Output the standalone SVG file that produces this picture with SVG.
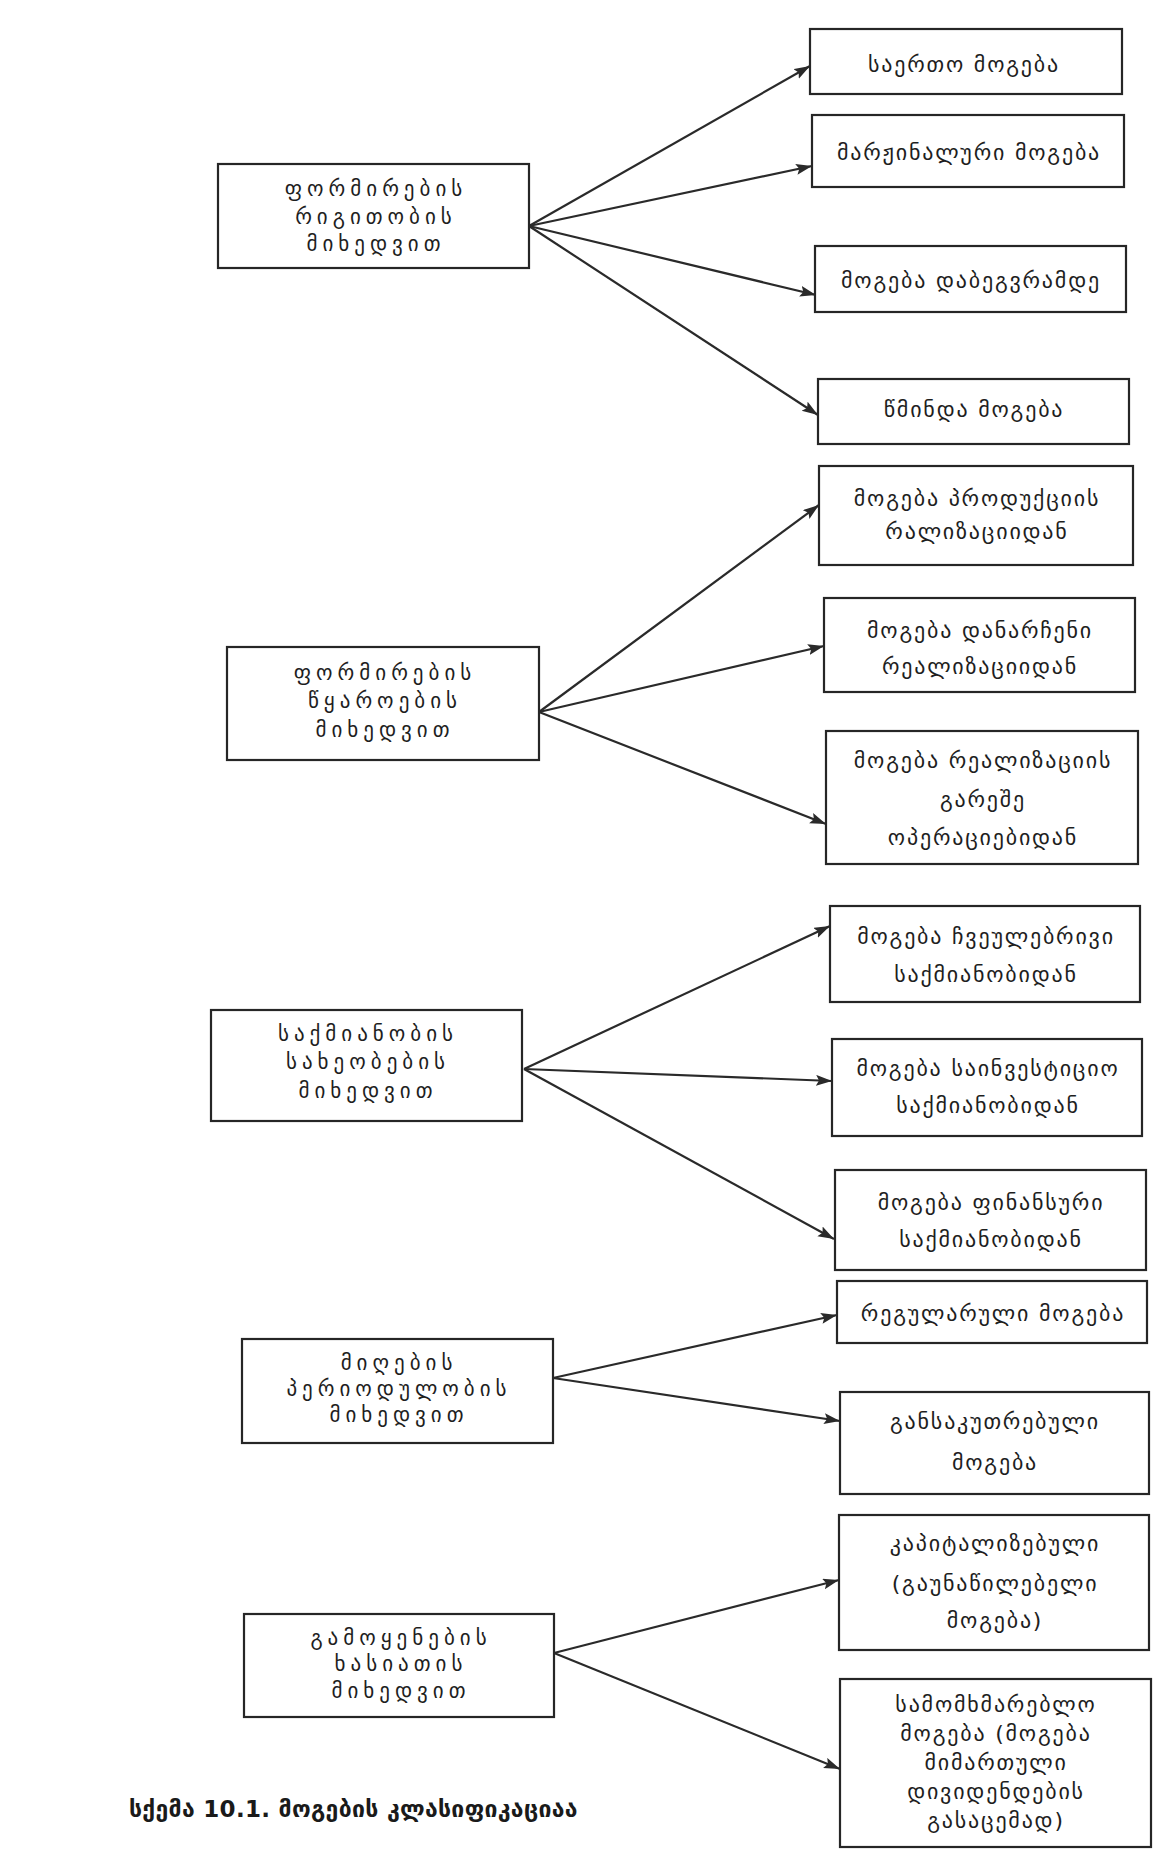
<svg xmlns="http://www.w3.org/2000/svg" width="1156" height="1851" viewBox="0 0 1156 1851">
<style>
.box{fill:#ffffff;stroke:#262626;stroke-width:2.2}
.lt{font-family:"DejaVu Sans",sans-serif;font-size:21px;letter-spacing:5px;fill:#1e1e1e;text-anchor:middle;dominant-baseline:central}
.rt{font-family:"DejaVu Sans",sans-serif;font-size:22px;letter-spacing:1.8px;fill:#1e1e1e;text-anchor:middle;dominant-baseline:central}
.cap{font-family:"DejaVu Sans",sans-serif;font-size:23px;letter-spacing:0.3px;font-weight:bold;fill:#1a1a1a;dominant-baseline:central}
.con line{stroke:#2a2a2a;stroke-width:2.2;marker-end:url(#ah)}
</style>
<defs>
<marker id="ah" markerUnits="userSpaceOnUse" markerWidth="17" markerHeight="12" refX="16" refY="5.5" orient="auto">
<path d="M0,0 L16,5.5 L0,11 L3,5.5 z" fill="#2a2a2a"/>
</marker>
</defs>
<rect width="1156" height="1851" fill="#ffffff"/>
<g id="connectors" class="con">
<line x1="529" y1="226" x2="810" y2="66"/>
<line x1="529" y1="226" x2="812" y2="166"/>
<line x1="529" y1="226" x2="816" y2="295"/>
<line x1="529" y1="226" x2="818" y2="415"/>
<line x1="539" y1="712" x2="819" y2="505"/>
<line x1="539" y1="712" x2="824" y2="646"/>
<line x1="539" y1="712" x2="826" y2="824"/>
<line x1="524" y1="1069" x2="830" y2="926"/>
<line x1="524" y1="1069" x2="832" y2="1081"/>
<line x1="524" y1="1069" x2="834" y2="1239"/>
<line x1="553" y1="1378" x2="837" y2="1315"/>
<line x1="553" y1="1378" x2="840" y2="1421"/>
<line x1="554" y1="1653" x2="839" y2="1580"/>
<line x1="554" y1="1653" x2="840" y2="1769"/>
</g>
<g id="L1"><rect class="box" x="218" y="164" width="311" height="104"/>
<text class="lt" x="376" y="189">ფორმირების</text><text class="lt" x="376" y="217">რიგითობის</text><text class="lt" x="376" y="244">მიხედვით</text></g>
<g id="L2"><rect class="box" x="227" y="647" width="312" height="113"/>
<text class="lt" x="385" y="673">ფორმირების</text><text class="lt" x="385" y="701">წყაროების</text><text class="lt" x="385" y="730">მიხედვით</text></g>
<g id="L3"><rect class="box" x="211" y="1010" width="311" height="111"/>
<text class="lt" x="368" y="1034">საქმიანობის</text><text class="lt" x="368" y="1062">სახეობების</text><text class="lt" x="368" y="1091">მიხედვით</text></g>
<g id="L4"><rect class="box" x="242" y="1339" width="311" height="104"/>
<text class="lt" x="399" y="1363">მიღების</text><text class="lt" x="399" y="1389">პერიოდულობის</text><text class="lt" x="399" y="1415">მიხედვით</text></g>
<g id="L5"><rect class="box" x="244" y="1614" width="310" height="103"/>
<text class="lt" x="401" y="1638">გამოყენების</text><text class="lt" x="401" y="1664">ხასიათის</text><text class="lt" x="401" y="1691">მიხედვით</text></g>
<g id="R1"><rect class="box" x="810" y="29" width="312" height="65"/>
<text class="rt" x="964" y="64">საერთო  მოგება</text></g>
<g id="R2"><rect class="box" x="812" y="115" width="312" height="72"/>
<text class="rt" x="969" y="152">მარჟინალური მოგება</text></g>
<g id="R3"><rect class="box" x="815" y="246" width="311" height="66"/>
<text class="rt" x="971" y="280">მოგება  დაბეგვრამდე</text></g>
<g id="R4"><rect class="box" x="818" y="379" width="311" height="65"/>
<text class="rt" x="974" y="409">წმინდა  მოგება</text></g>
<g id="R5"><rect class="box" x="819" y="466" width="314" height="99"/>
<text class="rt" x="977" y="498">მოგება პროდუქციის</text><text class="rt" x="977" y="531">რალიზაციიდან</text></g>
<g id="R6"><rect class="box" x="824" y="598" width="311" height="94"/>
<text class="rt" x="980" y="630">მოგება დანარჩენი</text><text class="rt" x="980" y="666">რეალიზაციიდან</text></g>
<g id="R7"><rect class="box" x="826" y="731" width="312" height="133"/>
<text class="rt" x="983" y="760">მოგება რეალიზაციის</text><text class="rt" x="983" y="799">გარეშე</text><text class="rt" x="983" y="837">ოპერაციებიდან</text></g>
<g id="R8"><rect class="box" x="830" y="906" width="310" height="96"/>
<text class="rt" x="986" y="936">მოგება ჩვეულებრივი</text><text class="rt" x="986" y="974">საქმიანობიდან</text></g>
<g id="R9"><rect class="box" x="832" y="1039" width="310" height="97"/>
<text class="rt" x="988" y="1068">მოგება საინვესტიციო</text><text class="rt" x="988" y="1105">საქმიანობიდან</text></g>
<g id="R10"><rect class="box" x="835" y="1170" width="311" height="100"/>
<text class="rt" x="991" y="1202">მოგება ფინანსური</text><text class="rt" x="991" y="1239">საქმიანობიდან</text></g>
<g id="R11"><rect class="box" x="837" y="1281" width="310" height="62"/>
<text class="rt" x="993" y="1313">რეგულარული მოგება</text></g>
<g id="R12"><rect class="box" x="840" y="1392" width="309" height="102"/>
<text class="rt" x="995" y="1421">განსაკუთრებული</text><text class="rt" x="995" y="1462">მოგება</text></g>
<g id="R13"><rect class="box" x="839" y="1515" width="310" height="135"/>
<text class="rt" x="995" y="1543">კაპიტალიზებული</text><text class="rt" x="995" y="1583">(გაუნაწილებელი</text><text class="rt" x="995" y="1620">მოგება)</text></g>
<g id="R14"><rect class="box" x="840" y="1679" width="311" height="168"/>
<text class="rt" x="996" y="1704">სამომხმარებლო</text><text class="rt" x="996" y="1733">მოგება (მოგება</text><text class="rt" x="996" y="1762">მიმართული</text><text class="rt" x="996" y="1791">დივიდენდების</text><text class="rt" x="996" y="1820">გასაცემად)</text></g>
<g id="caption"><text class="cap" x="129" y="1809">სქემა 10.1. მოგების კლასიფიკაციაა</text></g>
</svg>
